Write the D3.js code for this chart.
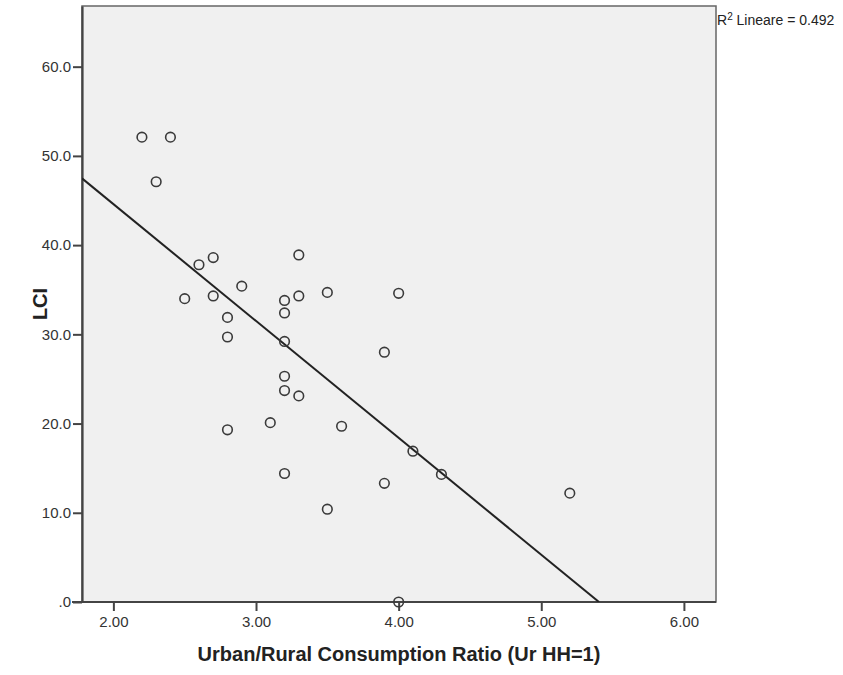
<!DOCTYPE html>
<html>
<head>
<meta charset="utf-8">
<script src="https://cdn.jsdelivr.net/npm/d3@7"></script>
<style>
  body { margin: 0; background: #fff; }
  text { font-family: "Liberation Sans", Arial, sans-serif; }
</style>
</head>
<body>
<div id="chart"></div>
<script>
const width = 843;
const height = 675;

// data
const ratio = [2.2, 2.4, 2.3, 2.6, 2.7, 2.5, 2.7, 2.9, 3.2, 3.2, 3.3, 3.3, 3.5, 4.0, 2.8,
               2.8, 3.2, 3.9, 3.2, 3.2, 3.3, 3.1, 2.8, 3.6, 4.1, 4.3, 3.2, 3.9, 3.5, 5.2, 4.0];
const lci = [52.1, 52.1, 47.1, 37.8, 38.6, 34.0, 34.3, 35.4, 33.8, 32.4, 34.3, 38.9, 34.7, 34.6, 31.9,
             29.7, 29.2, 28.0, 25.3, 23.7, 23.1, 20.1, 19.3, 19.7, 16.9, 14.3, 14.4, 13.3, 10.4, 12.2, 0.0];
const xTicks = [2, 3, 4, 5, 6];
const yTicks = [0, 10, 20, 30, 40, 50, 60];
const fitIntercept = 70.8;
const fitSlope = -13.1;
const r2Label = "0.492";

const margin = { top: 6, right: 127, bottom: 73, left: 82 };
const innerW = width - margin.left - margin.right;
const innerH = height - margin.top - margin.bottom;

const svg = d3.select("#chart")
    .append("svg")
    .attr("width", width)
    .attr("height", height);

const g = svg.append("g").attr("transform", `translate(${margin.left},${margin.top})`);

const x = d3.scaleLinear().domain([1.78, 6.225]).range([0, innerW]);
const y = d3.scaleLinear().domain([0, 66.8]).range([innerH, 0]);

// plot background + frame
g.append("rect")
    .attr("width", innerW)
    .attr("height", innerH)
    .attr("fill", "#f0f0f0")
    .attr("stroke", "#666")
    .attr("stroke-width", 1.5);

// axes
const xAxis = g.append("g")
    .attr("transform", `translate(0,${innerH})`)
    .call(d3.axisBottom(x).tickValues(xTicks).tickFormat(d3.format(".2f"))
        .tickSize(9).tickSizeOuter(0).tickPadding(5));

const yAxis = g.append("g")
    .call(d3.axisLeft(y).tickValues(yTicks)
        .tickFormat(d => d === 0 ? ".0" : d3.format(".1f")(d))
        .tickSize(9).tickSizeOuter(0).tickPadding(2));

[xAxis, yAxis].forEach(a => {
    a.select(".domain").attr("stroke", "#444").attr("stroke-width", 2.2);
    a.selectAll(".tick line").attr("stroke", "#444").attr("stroke-width", 2);
    a.selectAll(".tick text")
        .attr("fill", "#333")
        .style("font-size", "15px");
});
xAxis.select(".domain").attr("d", `M-10,0H${innerW}`);

// regression line, clipped to plot area
svg.append("clipPath").attr("id", "clip")
    .append("rect").attr("width", innerW).attr("height", innerH);

const x0 = x.domain()[0];
const x1 = -fitIntercept / fitSlope;
g.append("line")
    .attr("clip-path", "url(#clip)")
    .attr("x1", x(x0))
    .attr("y1", y(fitIntercept + fitSlope * x0))
    .attr("x2", x(x1))
    .attr("y2", y(fitIntercept + fitSlope * x1))
    .attr("stroke", "#222")
    .attr("stroke-width", 2);

// points
g.selectAll(".pt")
    .data(ratio.map((d, i) => [d, lci[i]]))
    .enter()
    .append("circle")
    .attr("class", "pt")
    .attr("cx", d => x(d[0]))
    .attr("cy", d => y(d[1]))
    .attr("r", 4.8)
    .attr("fill", "none")
    .attr("stroke", "#3a3a3a")
    .attr("stroke-width", 1.6);

// axis titles
svg.append("text")
    .attr("x", 399)
    .attr("y", 661)
    .attr("text-anchor", "middle")
    .style("font-size", "20px")
    .style("font-weight", "bold")
    .attr("fill", "#222")
    .text("Urban/Rural Consumption Ratio (Ur HH=1)");

svg.append("text")
    .attr("transform", `translate(47,${margin.top + innerH / 2}) rotate(-90)`)
    .attr("text-anchor", "middle")
    .style("font-size", "20px")
    .style("font-weight", "bold")
    .attr("fill", "#222")
    .text("LCI");

// R² label
const r2 = svg.append("text")
    .attr("x", margin.left + innerW + 1)
    .attr("y", 25)
    .style("font-size", "14px")
    .attr("fill", "#222");
r2.append("tspan").text("R");
r2.append("tspan").attr("dy", -5).style("font-size", "10px").text("2");
r2.append("tspan").attr("dy", 5).text(" Lineare = " + r2Label);
</script>
</body>
</html>
